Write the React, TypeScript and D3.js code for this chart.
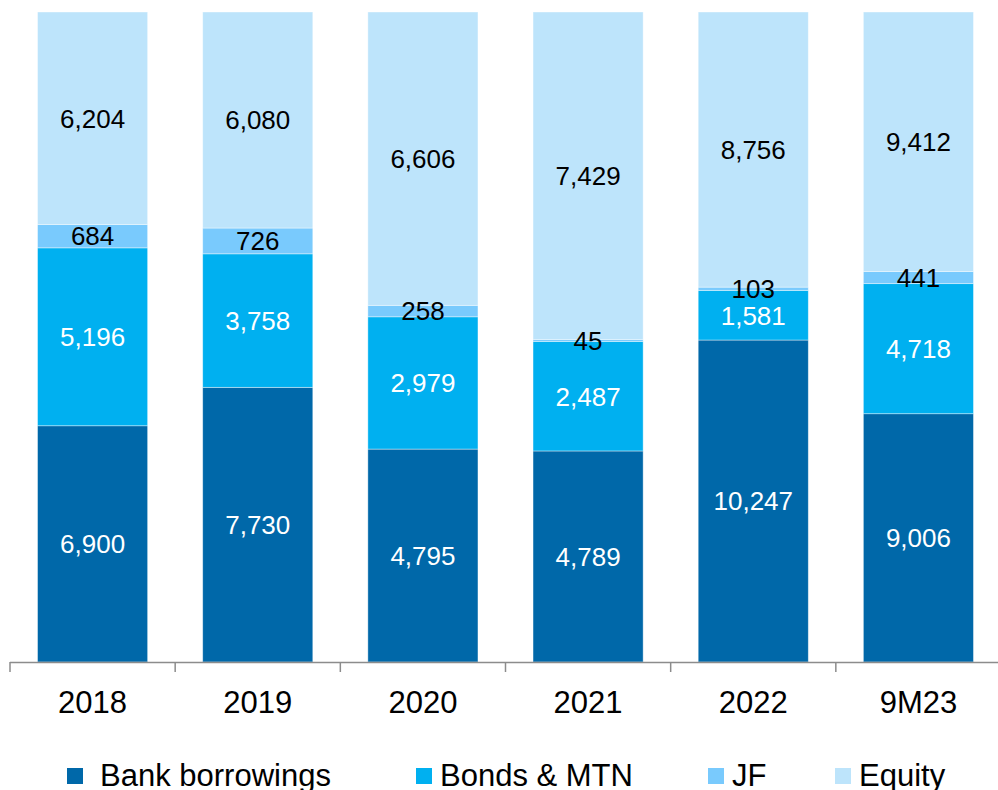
import { useEffect, useRef } from "react";
import * as d3 from "d3";

const periods = ["2018", "2019", "2020", "2021", "2022", "9M23"];
const bank = [6900, 7730, 4795, 4789, 10247, 9006];
const bonds = [5196, 3758, 2979, 2487, 1581, 4718];
const jf = [684, 726, 258, 45, 103, 441];
const equity = [6204, 6080, 6606, 7429, 8756, 9412];

const seriesNames = ["Bank borrowings", "Bonds & MTN", "JF", "Equity"];
const seriesColors = ["#0068a9", "#00b0f0", "#79cafd", "#bde4fb"];
const labelColors = ["#ffffff", "#ffffff", "#000000", "#000000"];
const legendX = [67, 416, 708, 835];

export default function App() {
  const ref = useRef<SVGSVGElement>(null);

  useEffect(() => {
    const svg = d3.select(ref.current);
    svg.selectAll("*").remove();

    const top = 12;
    const bottom = 662;
    const font = "'Liberation Sans', Arial, sans-serif";

    const rows = periods.map((p, i) => ({
      period: p,
      s0: bank[i],
      s1: bonds[i],
      s2: jf[i],
      s3: equity[i],
    }));
    const keys = ["s0", "s1", "s2", "s3"];

    const stack = d3.stack<any>().keys(keys).offset(d3.stackOffsetExpand);
    const layers = stack(rows);

    const x = d3
      .scaleBand()
      .domain(periods)
      .range([10, 1001])
      .paddingInner(1 / 3)
      .paddingOuter(1 / 6);
    const y = d3.scaleLinear().domain([0, 1]).range([bottom, top]);

    layers.forEach((layer, k) => {
      const g = svg.append("g");
      g.selectAll("rect")
        .data(layer)
        .enter()
        .append("rect")
        .attr("x", (d) => x(d.data.period)!)
        .attr("width", x.bandwidth())
        .attr("y", (d) => y(d[1]))
        .attr("height", (d) => y(d[0]) - y(d[1]))
        .attr("fill", seriesColors[k])
        .attr("stroke", "#ffffff")
        .attr("stroke-opacity", 0.5)
        .attr("stroke-width", 0.8);
    });

    layers.forEach((layer, k) => {
      svg
        .append("g")
        .selectAll("text")
        .data(layer)
        .enter()
        .append("text")
        .attr("x", (d) => x(d.data.period)! + x.bandwidth() / 2)
        .attr("y", (d) => (y(d[0]) + y(d[1])) / 2)
        .attr("dy", "0.36em")
        .attr("text-anchor", "middle")
        .style("font-family", font)
        .style("font-size", "26px")
        .style("fill", labelColors[k])
        .text((d) => d3.format(",")(d.data[keys[k]]));
    });

    // x axis
    const axis = svg.append("g");
    axis
      .append("line")
      .attr("x1", 10)
      .attr("x2", 998)
      .attr("y1", bottom + 0.5)
      .attr("y2", bottom + 0.5)
      .attr("stroke", "#8c8c8c")
      .attr("stroke-width", 1.5);
    const step = x.step();
    const boundaries = d3.range(periods.length + 1).map((i) => 10 + i * step);
    axis
      .selectAll(".tick")
      .data(boundaries)
      .enter()
      .append("line")
      .attr("x1", (d) => d)
      .attr("x2", (d) => d)
      .attr("y1", bottom)
      .attr("y2", bottom + 10)
      .attr("stroke", "#8c8c8c")
      .attr("stroke-width", 1.5);
    axis
      .selectAll(".lbl")
      .data(periods)
      .enter()
      .append("text")
      .attr("x", (d) => x(d)! + x.bandwidth() / 2)
      .attr("y", 712.5)
      .attr("text-anchor", "middle")
      .style("font-family", font)
      .style("font-size", "31px")
      .style("fill", "#000")
      .text((d) => d);

    // legend
    const legend = svg.append("g");
    seriesNames.forEach((name, i) => {
      legend
        .append("rect")
        .attr("x", legendX[i])
        .attr("y", 768)
        .attr("width", 16)
        .attr("height", 16)
        .attr("fill", seriesColors[i]);
      legend
        .append("text")
        .attr("x", legendX[i] + (i === 0 ? 33 : 24))
        .attr("y", 786)
        .style("font-family", font)
        .style("font-size", "31px")
        .style("fill", "#000")
        .text(name);
    });
  }, []);

  return (
    <svg
      ref={ref}
      width={998}
      height={790}
      style={{ position: "absolute", left: 0, top: 0, background: "#fff" }}
    />
  );
}
